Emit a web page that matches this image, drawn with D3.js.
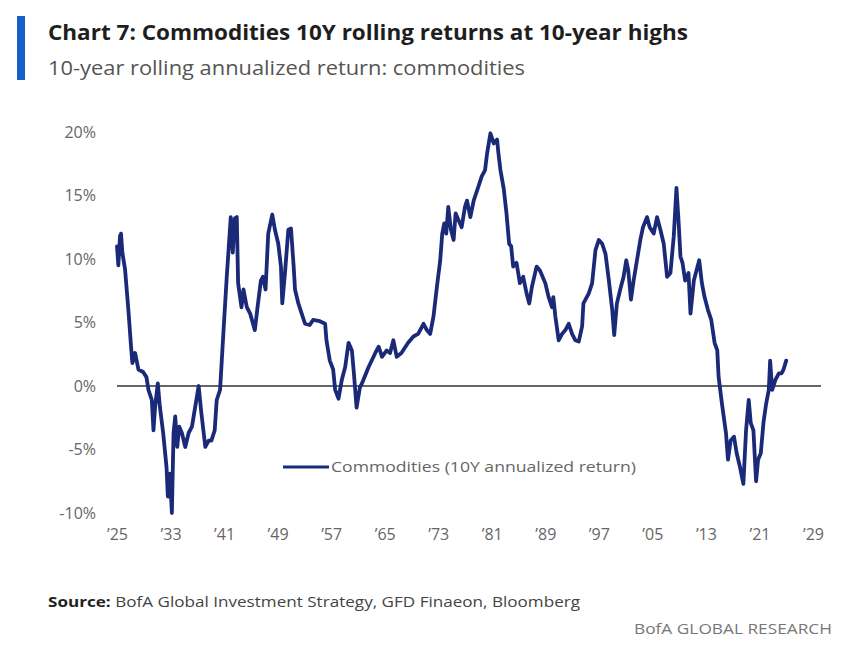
<!DOCTYPE html>
<html>
<head>
<meta charset="utf-8">
<script src="https://cdn.jsdelivr.net/npm/d3@7"></script>
<style>
  html, body { margin: 0; padding: 0; background: #fff; }
  svg { display: block; font-family: "Open Sans", sans-serif; }
</style>
</head>
<body>
<svg id="chart" width="848" height="645"></svg>
<script>
// ---- data ----
const title = "Chart 7: Commodities 10Y rolling returns at 10-year highs";
const subtitle = "10-year rolling annualized return: commodities";
const seriesName = "Commodities (10Y annualized return)";
const sourceLabel = "Source:";
const sourceText = " BofA Global Investment Strategy, GFD Finaeon, Bloomberg";
const brand = "BofA GLOBAL RESEARCH";

const yTicks = [-10, -5, 0, 5, 10, 15, 20];
const yTickLabels = ["-10%", "-5%", "0%", "5%", "10%", "15%", "20%"];
const xTicks = [1925, 1933, 1941, 1949, 1957, 1965, 1973, 1981, 1989, 1997, 2005, 2013, 2021, 2029];
const xTickLabels = ["\u201925", "\u201933", "\u201941", "\u201949", "\u201957", "\u201965", "\u201973", "\u201981", "\u201989", "\u201997", "\u201905", "\u201913", "\u201921", "\u201929"];

const years = [
  1925.0, 1925.2, 1925.45, 1925.6, 1925.8, 1926.2, 1926.7, 1927.1, 1927.3, 1927.7,
  1928.2, 1928.9, 1929.4, 1929.7, 1930.2, 1930.45, 1930.7, 1931.1, 1931.4, 1931.9,
  1932.4, 1932.6, 1932.9, 1933.2, 1933.45, 1933.7, 1934.0, 1934.3, 1934.7, 1935.2,
  1935.7, 1936.2, 1936.7, 1937.2, 1937.6, 1938.2, 1938.7, 1939.1, 1939.6, 1939.9,
  1940.4, 1940.9, 1941.4, 1942.0, 1942.3, 1942.6, 1942.9, 1943.1, 1943.6, 1943.9,
  1944.4, 1944.9, 1945.6, 1946.0, 1946.5, 1946.8, 1947.2, 1947.6, 1948.2, 1948.6,
  1949.1, 1949.5, 1949.7, 1950.1, 1950.6, 1951.0, 1951.4, 1951.6, 1952.1, 1952.6,
  1953.1, 1953.8, 1954.3, 1955.3, 1956.1, 1956.3, 1956.8, 1957.3, 1957.6, 1958.1,
  1958.6, 1959.1, 1959.6, 1960.1, 1960.4, 1960.8, 1961.3, 1961.6, 1962.6, 1963.6,
  1964.1, 1964.6, 1965.3, 1965.8, 1966.3, 1966.8, 1967.5, 1968.5, 1969.3, 1970.0,
  1970.8, 1971.3, 1971.8, 1972.3, 1972.8, 1973.3, 1973.6, 1973.9, 1974.2, 1974.5,
  1974.9, 1975.3, 1975.6, 1976.0, 1976.5, 1977.0, 1977.3, 1977.8, 1978.3, 1979.0,
  1979.5, 1980.0, 1980.3, 1980.8, 1981.3, 1981.8, 1982.0, 1982.3, 1982.8, 1983.2,
  1983.6, 1983.9, 1984.2, 1984.7, 1985.2, 1985.7, 1986.2, 1986.6, 1987.0, 1987.7,
  1988.2, 1989.0, 1989.5, 1990.0, 1990.2, 1990.5, 1991.0, 1991.5, 1992.0, 1992.5,
  1993.0, 1993.5, 1994.0, 1994.5, 1994.7, 1995.5, 1996.0, 1996.5, 1997.0, 1997.5,
  1998.0, 1998.5, 1999.0, 1999.3, 1999.7, 2000.2, 2000.7, 2001.1, 2001.4, 2001.8,
  2002.2, 2002.7, 2003.2, 2003.6, 2004.2, 2004.6, 2005.2, 2005.7, 2006.2, 2006.7,
  2007.2, 2007.7, 2008.2, 2008.6, 2008.9, 2009.2, 2009.5, 2009.9, 2010.4, 2010.7,
  2011.2, 2012.0, 2012.4, 2012.8, 2013.3, 2013.8, 2014.3, 2014.7, 2014.9, 2015.4,
  2016.0, 2016.3, 2016.7, 2017.2, 2017.6, 2018.1, 2018.6, 2019.0, 2019.4, 2019.7,
  2020.1, 2020.5, 2020.8, 2021.2, 2021.6, 2022.0, 2022.4, 2022.6, 2022.9, 2023.4,
  2023.9, 2024.3, 2024.6, 2025.0
];
const returns = [
  11.0, 9.5, 11.8, 12.0, 10.5, 9.2, 6.0, 3.1, 1.8, 2.6,
  1.3, 1.1, 0.7, -0.3, -1.1, -3.5, -1.6, 0.2, -1.6, -3.7,
  -6.4, -8.7, -6.9, -10.0, -3.7, -2.4, -4.8, -3.2, -3.7, -4.8,
  -3.7, -3.2, -1.6, 0.0, -2.1, -4.8, -4.3, -4.3, -3.5, -1.1,
  -0.3, 4.2, 8.6, 13.3, 10.5, 13.2, 13.3, 8.1, 6.2, 7.6,
  6.2, 5.7, 4.4, 6.2, 8.3, 8.6, 7.6, 12.0, 13.5, 12.3,
  11.2, 9.4, 6.5, 8.9, 12.3, 12.4, 9.4, 7.6, 6.5, 5.7,
  4.9, 4.8, 5.2, 5.1, 4.9, 3.6, 2.0, 1.3, -0.3, -1.0,
  0.5, 1.5, 3.4, 2.8, 1.0, -1.7, -0.1, 0.2, 1.5, 2.6,
  3.1, 2.3, 2.8, 2.6, 3.6, 2.3, 2.6, 3.4, 3.9, 4.1,
  4.9, 4.4, 4.1, 5.5, 7.8, 9.9, 12.0, 12.8, 12.0, 14.1,
  12.3, 11.5, 13.6, 13.1, 12.5, 14.1, 14.6, 13.3, 14.6, 15.7,
  16.5, 17.0, 18.3, 19.9, 19.1, 19.4, 18.3, 17.0, 15.5, 13.6,
  11.2, 11.0, 9.4, 9.7, 8.1, 8.6, 7.3, 6.5, 7.8, 9.4,
  9.1, 8.1, 7.0, 6.2, 7.0, 5.5, 3.6, 4.1, 4.4, 4.9,
  4.1, 3.6, 3.5, 4.7, 6.5, 7.3, 8.1, 10.7, 11.5, 11.2,
  10.4, 8.3, 6.0, 4.0, 6.5, 7.6, 8.6, 9.9, 9.1, 6.8,
  8.3, 9.9, 11.5, 12.5, 13.3, 12.5, 12.0, 13.3, 12.3, 11.2,
  8.6, 8.9, 11.8, 15.6, 13.1, 10.2, 9.7, 8.3, 8.9, 5.7,
  8.3, 9.9, 8.1, 7.0, 6.0, 5.2, 3.4, 2.8, 0.7, -1.4,
  -3.7, -5.8, -4.3, -4.0, -5.3, -6.4, -7.7, -3.5, -1.1, -2.9,
  -3.5, -7.5, -5.8, -5.3, -2.9, -1.4, -0.3, 2.0, -0.3, 0.5,
  1.0, 1.0, 1.3, 2.0
];

// ---- layout ----
const svg = d3.select("#chart");
const navy = "#1b2a78";
const font = "'Open Sans', sans-serif";

const x = d3.scaleLinear().domain([1925, 2030.2]).range([117, 821]);
const y = d3.scaleLinear().domain([-10, 20]).range([513, 132]);

// header
svg.append("rect").attr("x", 17).attr("y", 16).attr("width", 8).attr("height", 64).attr("fill", "#1560c8");
svg.append("text").attr("x", 48).attr("y", 40)
  .attr("font-size", 22).attr("font-weight", 700).attr("fill", "#1e1e1e")
  .attr("textLength", 640).attr("lengthAdjust", "spacingAndGlyphs")
  .text(title);
svg.append("text").attr("x", 48).attr("y", 75)
  .attr("font-size", 20).attr("fill", "#555")
  .attr("textLength", 477).attr("lengthAdjust", "spacingAndGlyphs")
  .text(subtitle);

// y axis labels
const yAxis = d3.axisLeft(y).tickValues(yTicks).tickSize(0).tickPadding(21)
  .tickFormat((d, i) => yTickLabels[i]);
const gy = svg.append("g").attr("transform", `translate(${x(1925)},0)`).call(yAxis);
gy.select(".domain").remove();
gy.selectAll("text").attr("font-family", font).attr("font-size", 16).attr("fill", "#666");

// x axis labels
const xAxis = d3.axisBottom(x).tickValues(xTicks).tickSize(0).tickPadding(16)
  .tickFormat((d, i) => xTickLabels[i]);
const gx = svg.append("g").attr("transform", `translate(0,${y(-10)})`).call(xAxis);
gx.select(".domain").remove();
gx.selectAll("text").attr("font-family", font).attr("font-size", 16).attr("fill", "#666");

// zero line
svg.append("line")
  .attr("x1", x(1925)).attr("x2", x(2030.2))
  .attr("y1", y(0)).attr("y2", y(0))
  .attr("stroke", "#666").attr("stroke-width", 2);

// series line
const pts = years.map((yr, i) => [yr, returns[i]]);
const line = d3.line().x(d => x(d[0])).y(d => y(d[1]));
svg.append("path").datum(pts)
  .attr("d", line)
  .attr("fill", "none").attr("stroke", navy).attr("stroke-width", 3.8)
  .attr("stroke-linejoin", "round").attr("stroke-linecap", "round");

// legend
svg.append("line").attr("x1", 283).attr("x2", 329).attr("y1", 467).attr("y2", 467)
  .attr("stroke", navy).attr("stroke-width", 3);
svg.append("text").attr("x", 331).attr("y", 467).attr("dy", "0.35em")
  .attr("font-size", 15).attr("fill", "#666")
  .attr("textLength", 305).attr("lengthAdjust", "spacingAndGlyphs")
  .text(seriesName);

// source
const src = svg.append("text").attr("x", 48).attr("y", 607)
  .attr("font-size", 15).attr("fill", "#444")
  .attr("textLength", 532).attr("lengthAdjust", "spacingAndGlyphs");
src.append("tspan").attr("font-weight", 700).attr("fill", "#222").text(sourceLabel);
src.append("tspan").text(sourceText);

svg.append("text").attr("x", 832).attr("y", 634).attr("text-anchor", "end")
  .attr("font-size", 15).attr("fill", "#777")
  .attr("textLength", 198).attr("lengthAdjust", "spacingAndGlyphs")
  .text(brand);
</script>
</body>
</html>
